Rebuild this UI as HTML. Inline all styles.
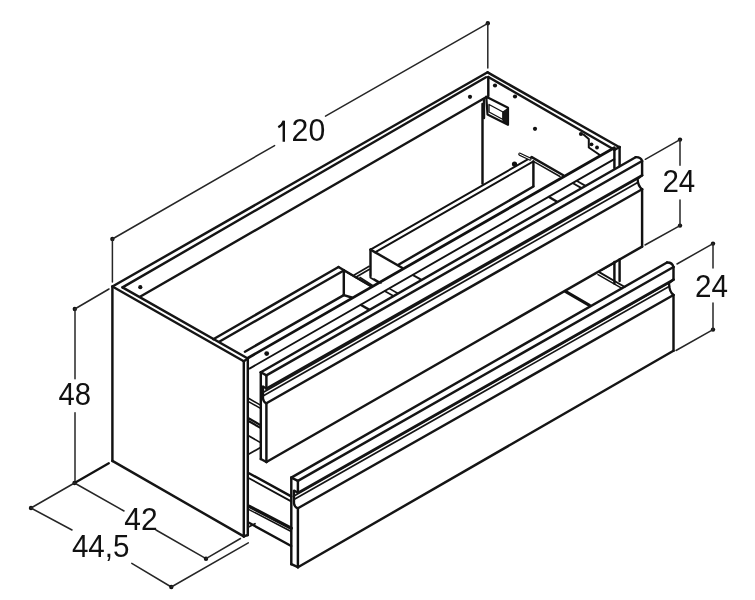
<!DOCTYPE html>
<html><head><meta charset="utf-8"><style>
html,body{margin:0;padding:0;background:#fff;}
svg{display:block;}
text{font-family:"Liberation Sans",sans-serif;fill:#111;}
svg{will-change:transform;}
</style></head><body>
<svg width="755" height="600" viewBox="0 0 755 600" stroke-linecap="round">
<rect width="755" height="600" fill="#fff"/>
<circle cx="112.4" cy="239" r="2.2" fill="#111"/>
<circle cx="487.8" cy="23.3" r="2.2" fill="#111"/>
<line x1="112.4" y1="239" x2="274.6" y2="145.6" stroke="#262626" stroke-width="1.5"/>
<line x1="325.5" y1="116.2" x2="487.8" y2="23.3" stroke="#262626" stroke-width="1.5"/>
<line x1="112.4" y1="239" x2="112.4" y2="282" stroke="#262626" stroke-width="1.5"/>
<line x1="487.8" y1="23.3" x2="487.8" y2="68" stroke="#262626" stroke-width="1.5"/>
<circle cx="74.8" cy="309" r="2.2" fill="#111"/>
<circle cx="74.5" cy="483" r="2.2" fill="#111"/>
<line x1="75" y1="309" x2="75" y2="378.7" stroke="#262626" stroke-width="1.5"/>
<line x1="75" y1="412.7" x2="75" y2="483" stroke="#262626" stroke-width="1.5"/>
<line x1="74.8" y1="309" x2="109" y2="289" stroke="#262626" stroke-width="1.5"/>
<line x1="74.5" y1="483" x2="108.8" y2="463.3" stroke="#111" stroke-width="2.3"/>
<line x1="74.5" y1="483" x2="124" y2="511" stroke="#262626" stroke-width="1.5"/>
<line x1="156" y1="530" x2="206" y2="558.7" stroke="#262626" stroke-width="1.5"/>
<circle cx="206" cy="558.7" r="2.2" fill="#111"/>
<line x1="206" y1="558.7" x2="240.5" y2="538.5" stroke="#262626" stroke-width="1.5"/>
<circle cx="31" cy="508" r="2.2" fill="#111"/>
<line x1="31" y1="508" x2="74.5" y2="483" stroke="#262626" stroke-width="1.5"/>
<line x1="31" y1="508" x2="72" y2="530" stroke="#262626" stroke-width="1.5"/>
<line x1="131.8" y1="563.4" x2="171.3" y2="587" stroke="#262626" stroke-width="1.5"/>
<circle cx="171.3" cy="587" r="2.2" fill="#111"/>
<line x1="171.3" y1="587" x2="248.3" y2="542.8" stroke="#262626" stroke-width="1.5"/>
<circle cx="680" cy="139.6" r="2.2" fill="#111"/>
<circle cx="680" cy="225.6" r="2.2" fill="#111"/>
<line x1="680" y1="139.6" x2="680" y2="165.3" stroke="#262626" stroke-width="1.5"/>
<line x1="680" y1="200" x2="680" y2="225.6" stroke="#262626" stroke-width="1.5"/>
<line x1="680" y1="139.6" x2="645.3" y2="159.3" stroke="#262626" stroke-width="1.5"/>
<line x1="680" y1="225.6" x2="645" y2="245" stroke="#262626" stroke-width="1.5"/>
<circle cx="713" cy="243.6" r="2.2" fill="#111"/>
<circle cx="713" cy="329.6" r="2.2" fill="#111"/>
<line x1="713" y1="243.6" x2="713" y2="268" stroke="#262626" stroke-width="1.5"/>
<line x1="713" y1="303" x2="713" y2="329.6" stroke="#262626" stroke-width="1.5"/>
<line x1="713" y1="243.6" x2="677" y2="264" stroke="#262626" stroke-width="1.5"/>
<line x1="713" y1="329.6" x2="676" y2="350.5" stroke="#262626" stroke-width="1.5"/>
<line x1="112.4" y1="286.5" x2="112.4" y2="460.9" stroke="#111" stroke-width="2.45"/>
<line x1="112.4" y1="286.5" x2="243.8" y2="361.2" stroke="#151515" stroke-width="2.45"/>
<line x1="122.5" y1="287.4" x2="247.8" y2="358.5" stroke="#151515" stroke-width="2.45"/>
<line x1="112.4" y1="460.9" x2="243.8" y2="536.4" stroke="#151515" stroke-width="2.45"/>
<line x1="243.8" y1="361.2" x2="243.8" y2="536.4" stroke="#111" stroke-width="2.45"/>
<line x1="247.8" y1="358.5" x2="247.8" y2="535" stroke="#111" stroke-width="2.45"/>
<line x1="243.8" y1="536.4" x2="247.8" y2="535" stroke="#151515" stroke-width="2.45"/>
<line x1="243.8" y1="361.2" x2="247.8" y2="358.5" stroke="#151515" stroke-width="2.45"/>
<line x1="112.4" y1="286.5" x2="487.6" y2="72.3" stroke="#151515" stroke-width="2.45"/>
<line x1="122.5" y1="287.4" x2="486" y2="77.2" stroke="#151515" stroke-width="2.45"/>
<line x1="140" y1="296.8" x2="486" y2="97.3" stroke="#151515" stroke-width="2.45"/>
<circle cx="140.3" cy="287.2" r="2.1" fill="#111"/>
<line x1="487.6" y1="72.4" x2="619.5" y2="147.2" stroke="#151515" stroke-width="2.45"/>
<line x1="488.3" y1="77" x2="614.4" y2="149.8" stroke="#151515" stroke-width="2.45"/>
<line x1="614.4" y1="149.8" x2="619.6" y2="147" stroke="#151515" stroke-width="2.45"/>
<line x1="488.3" y1="77" x2="488.3" y2="96" stroke="#111" stroke-width="2.45"/>
<line x1="482.5" y1="104" x2="482.5" y2="183.5" stroke="#111" stroke-width="2.45"/>
<line x1="614.4" y1="149.8" x2="614.4" y2="168" stroke="#111" stroke-width="2.45"/>
<line x1="619.6" y1="147" x2="619.6" y2="166" stroke="#111" stroke-width="2.45"/>
<circle cx="470" cy="96.8" r="2.1" fill="#111"/>
<circle cx="495" cy="85.5" r="2.1" fill="#111"/>
<circle cx="515" cy="96.5" r="2.1" fill="#111"/>
<circle cx="535" cy="128.8" r="2.1" fill="#111"/>
<circle cx="581" cy="134" r="2.1" fill="#111"/>
<polygon points="486.3,96.7 508,107.8 508,124.8 487.5,114.5" stroke="#111" stroke-width="2.2" fill="none" stroke-linejoin="round"/>
<polygon points="489,104.5 503,112 503,119.5 489,112" stroke="#111" stroke-width="1.4" fill="none" stroke-linejoin="round"/>
<line x1="484" y1="99" x2="484" y2="118" stroke="#151515" stroke-width="2.4"/>
<polygon points="503,112 508,108.5 508,124.5 503,121" stroke="#111" stroke-width="1.2" fill="#151515" stroke-linejoin="round"/>
<polyline points="583.5,134.5 588.8,139 588.8,147.5 599.8,155" stroke="#111" stroke-width="2.0" fill="none" stroke-linejoin="round"/>
<circle cx="591.5" cy="144.3" r="1.9" fill="#111"/>
<circle cx="597" cy="147.5" r="1.9" fill="#111"/>
<line x1="213.3" y1="339.2" x2="338.5" y2="267" stroke="#151515" stroke-width="2.45"/>
<line x1="370.5" y1="249.63" x2="531.7" y2="157.1" stroke="#111" stroke-width="1.9"/>
<line x1="219.2" y1="341.7" x2="343.8" y2="270.5" stroke="#151515" stroke-width="2.45"/>
<line x1="375" y1="252.35" x2="533.4" y2="161.43" stroke="#111" stroke-width="1.9"/>
<line x1="338.5" y1="267" x2="370.3" y2="285.8" stroke="#151515" stroke-width="2.45"/>
<line x1="343.8" y1="270.5" x2="371.5" y2="286.5" stroke="#151515" stroke-width="1.5"/>
<line x1="343.8" y1="270.5" x2="343.8" y2="295.1" stroke="#111" stroke-width="2.45"/>
<line x1="343.8" y1="295.1" x2="351.7" y2="297.5" stroke="#151515" stroke-width="2.45"/>
<line x1="370.5" y1="249.6" x2="370.5" y2="276" stroke="#111" stroke-width="2.45"/>
<line x1="370.5" y1="249.6" x2="402" y2="267.8" stroke="#151515" stroke-width="2.45"/>
<line x1="354.2" y1="275" x2="369.2" y2="266.3" stroke="#151515" stroke-width="1.6"/>
<line x1="355.8" y1="277.3" x2="369.5" y2="269.3" stroke="#151515" stroke-width="1.6"/>
<line x1="360" y1="277.5" x2="372.5" y2="285.5" stroke="#151515" stroke-width="1.6"/>
<line x1="370.2" y1="277.5" x2="378.3" y2="282.5" stroke="#151515" stroke-width="1.6"/>
<line x1="374" y1="279" x2="381" y2="283" stroke="#151515" stroke-width="1.6"/>
<line x1="531.7" y1="157.1" x2="563.3" y2="175.3" stroke="#151515" stroke-width="2.45"/>
<line x1="533.4" y1="161.4" x2="560" y2="176.5" stroke="#151515" stroke-width="1.5"/>
<line x1="533.4" y1="161.4" x2="533.4" y2="186" stroke="#111" stroke-width="2.45"/>
<line x1="519.8" y1="154.2" x2="530" y2="159" stroke="#151515" stroke-width="3.2"/>
<line x1="519.8" y1="154.2" x2="530" y2="159" stroke="#fff" stroke-width="1.0"/>
<circle cx="514.5" cy="164" r="2.6" fill="#111"/>
<line x1="244.9" y1="351.7" x2="343.8" y2="295.1" stroke="#151515" stroke-width="2.45"/>
<line x1="398" y1="265" x2="533.4" y2="186.5" stroke="#151515" stroke-width="2.45"/>
<line x1="248.4" y1="357.72" x2="614.3" y2="147.69" stroke="#111" stroke-width="2.8"/>
<line x1="249.5" y1="368.59" x2="614.3" y2="159.19" stroke="#111" stroke-width="1.9"/>
<circle cx="266.7" cy="353.6" r="2.4" fill="#111"/>
<line x1="361" y1="304.99" x2="369.1" y2="309.59" stroke="#151515" stroke-width="2.4"/>
<line x1="385" y1="291.21" x2="393.1" y2="295.81" stroke="#151515" stroke-width="1.6"/>
<line x1="389.5" y1="288.63" x2="397.6" y2="293.23" stroke="#151515" stroke-width="1.6"/>
<line x1="413" y1="275.14" x2="421.1" y2="279.74" stroke="#151515" stroke-width="2.0"/>
<line x1="549" y1="197.07" x2="557.1" y2="201.67" stroke="#151515" stroke-width="2.4"/>
<line x1="573" y1="183.3" x2="581.1" y2="187.9" stroke="#151515" stroke-width="1.8"/>
<line x1="577" y1="181" x2="585.1" y2="185.6" stroke="#151515" stroke-width="1.8"/>
<line x1="249" y1="398.5" x2="260.5" y2="405.12" stroke="#111" stroke-width="1.5"/>
<line x1="249" y1="401.8" x2="260.5" y2="408.42" stroke="#111" stroke-width="1.5"/>
<line x1="249" y1="418.5" x2="260.5" y2="425.12" stroke="#111" stroke-width="2.2"/>
<line x1="249" y1="421.3" x2="260.5" y2="427.92" stroke="#111" stroke-width="2.2"/>
<line x1="249" y1="436" x2="260.5" y2="442.62" stroke="#111" stroke-width="1.7"/>
<line x1="249" y1="454" x2="260.5" y2="447.5" stroke="#151515" stroke-width="1.7"/>
<line x1="260.8" y1="372.3" x2="260.8" y2="459" stroke="#111" stroke-width="2.45"/>
<line x1="260.8" y1="372.3" x2="266.4" y2="375.4" stroke="#151515" stroke-width="2.45"/>
<line x1="266.4" y1="375.4" x2="266.4" y2="388.6" stroke="#111" stroke-width="2.45"/>
<path d="M266.4,388.6 L263,386.4 L263,398.3 Q263.3,401.8 266.4,403.3" stroke="#111" stroke-width="2.3" fill="none" stroke-linejoin="round"/>
<line x1="266.4" y1="403.3" x2="266.4" y2="462" stroke="#111" stroke-width="2.45"/>
<line x1="260.8" y1="459" x2="266.4" y2="462" stroke="#151515" stroke-width="2.45"/>
<line x1="260.8" y1="372.3" x2="635.6" y2="157.2" stroke="#151515" stroke-width="2.45"/>
<path d="M635.6,157.2 Q640.9,157 642.1,161" stroke="#111" stroke-width="2.3" fill="none" stroke-linejoin="round"/>
<line x1="266.4" y1="375.4" x2="642.1" y2="161" stroke="#151515" stroke-width="2.45"/>
<line x1="266.4" y1="388.6" x2="642.1" y2="175.3" stroke="#151515" stroke-width="2.45"/>
<line x1="642.1" y1="161" x2="642.1" y2="175.3" stroke="#111" stroke-width="2.45"/>
<line x1="263" y1="392.6" x2="637.6" y2="178.8" stroke="#151515" stroke-width="1.7"/>
<line x1="263" y1="396" x2="638.1" y2="182.2" stroke="#151515" stroke-width="1.7"/>
<line x1="266.4" y1="403.3" x2="642.1" y2="189.2" stroke="#151515" stroke-width="2.45"/>
<path d="M642.1,175.3 L637.6,178.9 Q637.9,186.2 642.1,189.2" stroke="#111" stroke-width="2.3" fill="none" stroke-linejoin="round"/>
<line x1="642.1" y1="189.2" x2="642.1" y2="246.6" stroke="#111" stroke-width="2.45"/>
<line x1="266.4" y1="462" x2="642.1" y2="246.6" stroke="#151515" stroke-width="2.45"/>
<line x1="291.3" y1="477.6" x2="291.3" y2="564.2" stroke="#111" stroke-width="2.45"/>
<line x1="291.3" y1="477.6" x2="297.9" y2="480.9" stroke="#151515" stroke-width="2.45"/>
<line x1="297.9" y1="480.9" x2="297.9" y2="492.8" stroke="#111" stroke-width="2.45"/>
<path d="M297.9,492.8 L294,490.6 L294,503.3 Q294.3,506.8 297.9,508.3" stroke="#111" stroke-width="2.3" fill="none" stroke-linejoin="round"/>
<line x1="297.9" y1="508.3" x2="297.9" y2="567.2" stroke="#111" stroke-width="2.45"/>
<line x1="291.3" y1="564.2" x2="297.9" y2="567.2" stroke="#151515" stroke-width="2.45"/>
<line x1="291.3" y1="477.6" x2="667" y2="262.5" stroke="#151515" stroke-width="2.45"/>
<path d="M667,262.5 Q672.3,262.3 673.5,267" stroke="#111" stroke-width="2.3" fill="none" stroke-linejoin="round"/>
<line x1="297.9" y1="480.9" x2="673.5" y2="267" stroke="#151515" stroke-width="2.45"/>
<line x1="297.9" y1="492.8" x2="673.5" y2="279.6" stroke="#151515" stroke-width="2.45"/>
<line x1="673.5" y1="267" x2="673.5" y2="279.6" stroke="#111" stroke-width="2.45"/>
<line x1="294" y1="496" x2="669" y2="283.1" stroke="#151515" stroke-width="1.7"/>
<line x1="294" y1="499.4" x2="669.5" y2="286.2" stroke="#151515" stroke-width="1.7"/>
<line x1="297.9" y1="508.3" x2="673.5" y2="295" stroke="#151515" stroke-width="2.45"/>
<path d="M673.5,279.6 L669,283.2 Q669.3,292 673.5,295" stroke="#111" stroke-width="2.3" fill="none" stroke-linejoin="round"/>
<line x1="673.5" y1="295" x2="673.5" y2="350.8" stroke="#111" stroke-width="2.45"/>
<line x1="297.9" y1="567.2" x2="673.5" y2="350.8" stroke="#151515" stroke-width="2.45"/>
<line x1="249" y1="473.2" x2="291.2" y2="496.41" stroke="#111" stroke-width="2.45"/>
<line x1="249" y1="478.2" x2="291.2" y2="501.41" stroke="#111" stroke-width="1.8"/>
<line x1="249" y1="506.2" x2="291.2" y2="528.14" stroke="#111" stroke-width="3.4"/>
<line x1="249" y1="509.6" x2="291.2" y2="531.54" stroke="#111" stroke-width="1.5"/>
<line x1="249" y1="522.8" x2="291.2" y2="546.01" stroke="#111" stroke-width="2.45"/>
<line x1="249" y1="526.8" x2="255" y2="523.8" stroke="#151515" stroke-width="1.8"/>
<line x1="614.4" y1="262" x2="614.4" y2="283.5" stroke="#111" stroke-width="2.45"/>
<line x1="619.6" y1="259.5" x2="619.6" y2="281" stroke="#111" stroke-width="2.45"/>
<line x1="602.3" y1="269.7" x2="615.5" y2="262.3" stroke="#151515" stroke-width="1.6"/>
<line x1="599.6" y1="272.4" x2="624.8" y2="286.92" stroke="#111" stroke-width="1.8"/>
<line x1="598" y1="274.6" x2="622" y2="288.42" stroke="#111" stroke-width="1.5"/>
<line x1="565.4" y1="291.4" x2="589.5" y2="305.28" stroke="#111" stroke-width="3.2"/>
<path d="M278.3,127.2 C280.8,125.8 283,123.8 283.8,120.8 L283.8,141.7" stroke="#111" stroke-width="2.4" fill="none" stroke-linecap="butt"/>
<text x="291.58" y="141.40" font-size="31.3" textLength="33.60" lengthAdjust="spacingAndGlyphs">20</text>
<text x="58.53" y="405.40" font-size="31.3" textLength="32.54" lengthAdjust="spacingAndGlyphs">48</text>
<text x="124.31" y="529.80" font-size="31.3" textLength="33.29" lengthAdjust="spacingAndGlyphs">42</text>
<text x="71.92" y="557.00" font-size="31.3" textLength="57.62" lengthAdjust="spacingAndGlyphs">44,5</text>
<text x="662.41" y="192.20" font-size="31.3" textLength="32.85" lengthAdjust="spacingAndGlyphs">24</text>
<text x="695.11" y="296.60" font-size="31.3" textLength="32.96" lengthAdjust="spacingAndGlyphs">24</text>
</svg>
</body></html>
